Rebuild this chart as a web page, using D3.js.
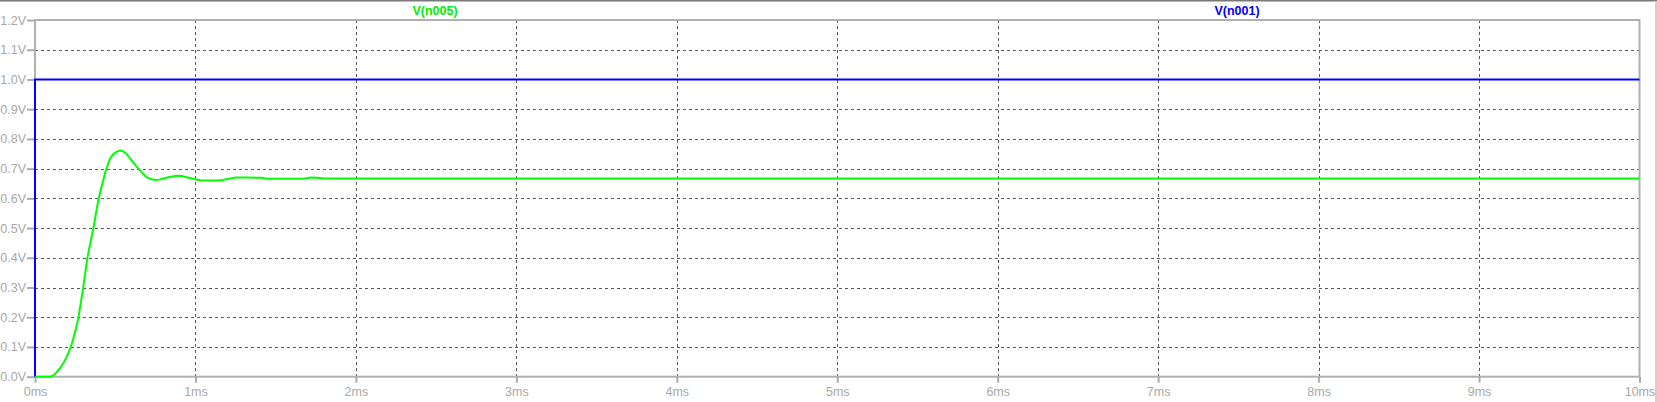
<!DOCTYPE html>
<html><head><meta charset="utf-8">
<script src="https://cdn.jsdelivr.net/npm/d3@7"></script>
<style>
html,body{margin:0;padding:0;background:#fff;overflow:hidden;}
svg{display:block;}
</style></head>
<body>
<script>
// Data
const yTicks = [0,0.1,0.2,0.3,0.4,0.5,0.6,0.7,0.8,0.9,1.0,1.1,1.2];
const xTicks = [0,1,2,3,4,5,6,7,8,9,10];
const seriesNames = ["V(n005)", "V(n001)"];
// V(n001): step input
const n001Time = [0, 0, 10];
const n001Volt = [0, 1.0, 1.0];
// V(n005): second-order response (ms, V)
const n005Time = [0, 0.10, 0.125, 0.15, 0.177, 0.20, 0.224, 0.25, 0.27, 0.30, 0.326, 0.345, 0.364, 0.38, 0.395, 0.41, 0.426, 0.44, 0.457, 0.47, 0.488, 0.51, 0.53, 0.55, 0.571, 0.59, 0.613, 0.635, 0.655, 0.675, 0.696, 0.72, 0.748, 0.775, 0.80, 0.84, 0.883, 0.915, 0.946, 0.99, 1.03, 1.08, 1.133, 1.17, 1.20, 1.25, 1.33, 1.41, 1.45, 1.55, 1.67, 1.72, 1.76, 1.80, 2.0, 3.0, 5.0, 7.0, 10.0];
const n005Volt = [0, 0, 0.009, 0.025, 0.045, 0.070, 0.101, 0.150, 0.197, 0.298, 0.399, 0.450, 0.50, 0.55, 0.595, 0.630, 0.662, 0.692, 0.718, 0.736, 0.749, 0.757, 0.761, 0.758, 0.749, 0.736, 0.720, 0.706, 0.694, 0.682, 0.671, 0.665, 0.662, 0.663, 0.667, 0.672, 0.676, 0.675, 0.671, 0.665, 0.661, 0.660, 0.660, 0.662, 0.665, 0.670, 0.670, 0.669, 0.666, 0.666, 0.666, 0.670, 0.669, 0.667, 0.667, 0.667, 0.667, 0.667, 0.667];

const W = 1657, H = 402;
const svg = d3.select("body").append("svg").attr("width", W).attr("height", H);

const x = d3.scaleLinear().domain([0, 10]).range([35, 1639.5]);
const y = d3.scaleLinear().domain([0, 1.2]).range([376.7, 20]);

// window borders
svg.append("rect").attr("x",0).attr("y",0).attr("width",W).attr("height",1.5).attr("fill","#7a7a7a");
svg.append("rect").attr("x",1655).attr("y",1.5).attr("width",2).attr("height",H).attr("fill","#d0d0d0");

// grid
const grid = svg.append("g").attr("stroke","#5a5a5a").attr("stroke-width",1).attr("stroke-dasharray","3,3").attr("shape-rendering","crispEdges");
yTicks.filter(v => v > 0 && v < 1.2).forEach(v => {
  grid.append("line").attr("x1", x(0)).attr("x2", x(10)).attr("y1", Math.round(y(v))+0.5).attr("y2", Math.round(y(v))+0.5);
});
xTicks.filter(v => v > 0 && v < 10).forEach(v => {
  grid.append("line").attr("y1", y(1.2)).attr("y2", y(0)).attr("x1", Math.round(x(v))+0.5).attr("x2", Math.round(x(v))+0.5);
});

// axes
const font = "'Liberation Sans', Arial, sans-serif";
const yAxis = d3.axisLeft(y).tickValues(yTicks).tickFormat(d => d.toFixed(1) + "V").tickSize(8).tickPadding(1);
const gy = svg.append("g").attr("transform", `translate(${x(0)},0)`).call(yAxis);
const xAxis = d3.axisBottom(x).tickValues(xTicks).tickFormat(d => d + "ms").tickSize(6).tickPadding(4);
const gx = svg.append("g").attr("transform", `translate(0,${y(0)})`).call(xAxis);
[gy, gx].forEach(g => {
  g.select(".domain").remove();
  g.selectAll(".tick line").attr("stroke", "#ababab").attr("stroke-width", 2);
  g.selectAll(".tick text").attr("fill", "#a8a8a8").style("font-family", font).style("font-size", "12.5px");
});

// frame
svg.append("rect").attr("x", x(0)).attr("y", y(1.2)).attr("width", x(10) - x(0)).attr("height", y(0) - y(1.2))
  .attr("fill", "none").attr("stroke", "#b0b0b0").attr("stroke-width", 2);

// series
const line = d3.line().x(d => x(d[0])).y(d => y(d[1]));
svg.append("path").datum(n001Time.map((t, i) => [t, n001Volt[i]]))
  .attr("d", line).attr("fill", "none").attr("stroke", "#0000ff").attr("stroke-width", 2);
svg.append("path").datum(n005Time.map((t, i) => [t, n005Volt[i]]))
  .attr("d", line).attr("fill", "none").attr("stroke", "#00ff00").attr("stroke-width", 2);

// titles
svg.append("text").attr("x", 435).attr("y", 15).attr("text-anchor", "middle")
  .attr("fill", "#00ee00").style("font-family", font).style("font-weight", "bold").style("font-size", "12.5px").text(seriesNames[0]);
svg.append("text").attr("x", 1237).attr("y", 15).attr("text-anchor", "middle")
  .attr("fill", "#0000ff").style("font-family", font).style("font-weight", "bold").style("font-size", "12.5px").text(seriesNames[1]);
</script>
</body></html>
